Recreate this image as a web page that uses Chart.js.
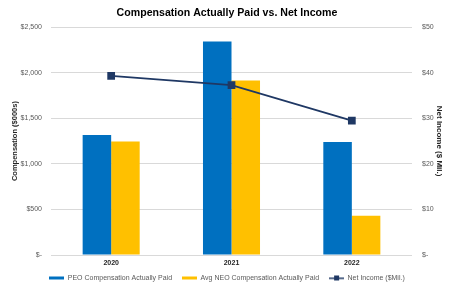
<!DOCTYPE html>
<html>
<head>
<meta charset="utf-8">
<script src="https://cdn.jsdelivr.net/npm/chart.js@4"></script>
<style>
  body { margin: 0; background: #fff; }
</style>
</head>
<body>
<canvas id="grafico" width="454" height="288"></canvas>
<script>
    // data
    const years = ['2020', '2021', '2022'];
    const peoPaid = [1316, 2343, 1239];
    const neoPaid = [1247, 1915, 431];
    const netIncome = [39.3, 37.3, 29.5];

    const seriesNames = [
        'PEO Compensation Actually Paid',
        'Avg NEO Compensation Actually Paid',
        'Net Income ($Mil.)'
    ];

    const blue = '#0070C0', gold = '#FFC000', navy = '#1F3864';
    const font = '"Liberation Sans", Arial, sans-serif';

    // little legend pictures: flat bars and a line with a square
    function swatch(color, withMarker) {
        const c = document.createElement('canvas');
        c.width = 15; c.height = 7;
        const g = c.getContext('2d');
        g.fillStyle = color;
        if (withMarker) {
            g.fillRect(0, 3, 15, 1.5);
            g.fillRect(5, 1, 5, 5);
        } else {
            g.fillRect(0, 2, 15, 3);
        }
        return c;
    }
    const swatches = [swatch(blue), swatch(gold), swatch(navy, true)];

    function money(v) {
        return v === 0 ? '$-' : '$' + v.toLocaleString('en-US');
    }

    // pull the legend up a little, closer to the year labels
    const legendNudge = {
        id: 'legendNudge',
        afterLayout: function(chart) {
            chart.legend.top -= 3.5;
            chart.legend.bottom -= 3.5;
        }
    };

    const data = {
        labels: years,
        datasets: [{
            label: seriesNames[0],
            data: peoPaid,
            backgroundColor: blue,
            yAxisID: 'y',
            order: 1
        }, {
            label: seriesNames[1],
            data: neoPaid,
            backgroundColor: gold,
            yAxisID: 'y',
            order: 1
        }, {
            type: 'line',
            label: seriesNames[2],
            data: netIncome,
            borderColor: navy,
            backgroundColor: navy,
            borderWidth: 1.8,
            pointStyle: 'rect',
            pointRadius: 4.2,
            yAxisID: 'y1',
            order: 0
        }]
    };

    const config = {
        type: 'bar',
        data: data,
        plugins: [legendNudge],
        options: {
            responsive: false,
            animation: false,
            categoryPercentage: 0.474,
            barPercentage: 1,
            layout: { padding: { left: 4, right: 4, top: 4, bottom: 0 } },
            plugins: {
                title: {
                    display: true,
                    text: 'Compensation Actually Paid vs. Net Income',
                    color: '#000',
                    font: { family: font, size: 10.6, weight: 'bold' },
                    padding: { top: 2.5, bottom: 8 }
                },
                legend: {
                    position: 'bottom',
                    maxHeight: 20,
                    labels: {
                        usePointStyle: true,
                        pointStyleWidth: 15,
                        boxHeight: 7,
                        padding: 10,
                        color: '#595959',
                        font: { family: font, size: 7 },
                        generateLabels: function(chart) {
                            return chart.data.datasets.map(function(ds, i) {
                                return {
                                    text: ds.label,
                                    pointStyle: swatches[i],
                                    fillStyle: 'transparent',
                                    strokeStyle: 'transparent',
                                    lineWidth: 0,
                                    fontColor: '#595959',
                                    datasetIndex: i
                                };
                            });
                        }
                    }
                },
                tooltip: { enabled: false }
            },
            scales: {
                x: {
                    grid: { display: false, drawTicks: false },
                    border: { display: false },
                    ticks: {
                        padding: 4,
                        color: '#262626',
                        font: { family: font, size: 7, weight: 'bold' }
                    },
                    afterFit: function(s) { s.height = 13; }
                },
                y: {
                    position: 'left',
                    min: 0, max: 2500,
                    grid: { color: '#D9D9D9', drawTicks: false },
                    border: { display: false },
                    ticks: {
                        stepSize: 500,
                        padding: 9,
                        color: '#595959',
                        font: { family: font, size: 7 },
                        callback: money
                    },
                    title: {
                        display: true,
                        text: 'Compensation ($000s)',
                        color: '#262626',
                        font: { family: font, size: 7.5, weight: 'bold' },
                        padding: { top: 6.5, bottom: 0 }
                    },
                    afterFit: function(s) { s.width = 47; }
                },
                y1: {
                    position: 'right',
                    min: 0, max: 50,
                    grid: { display: false, drawTicks: false },
                    border: { display: false },
                    ticks: {
                        stepSize: 10,
                        padding: 10,
                        color: '#595959',
                        font: { family: font, size: 7 },
                        callback: money
                    },
                    title: {
                        display: true,
                        text: 'Net Income ($ Mil.)',
                        color: '#262626',
                        font: { family: font, size: 8, weight: 'bold' },
                        padding: { top: 5.7, bottom: 0 }
                    },
                    afterFit: function(s) { s.width = 38; }
                }
            }
        }
    };

    const myChart = new Chart(document.getElementById('grafico'), config);
</script>
</body>
</html>
